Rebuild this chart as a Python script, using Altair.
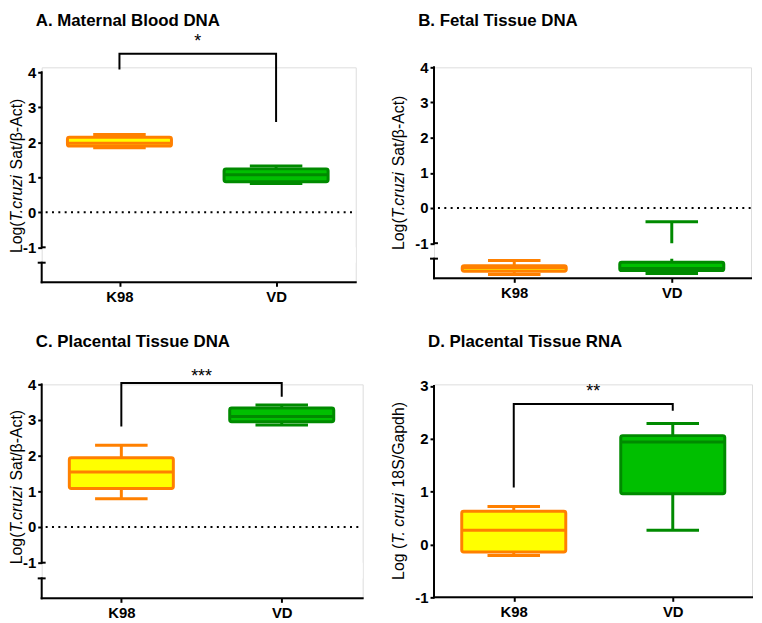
import altair as alt
import pandas as pd

FONT = "Liberation Sans"
ORANGE = "#FF8000"
YELLOW = "#FFFF00"
DKGREEN = "#008A00"
LTGREEN = "#00BF00"

groups = ["K98", "VD"]

# ---- data (log values) ----
A_low = [1.84, 0.82]
A_q1 = [1.89, 0.87]
A_med = [1.97, 1.07]
A_q3 = [2.14, 1.24]
A_high = [2.22, 1.32]

B_low = [-1.89, -1.86]
B_q1 = [-1.80, -1.78]
B_med = [-1.70, -1.72]
B_q3 = [-1.64, -1.54]
B_high = [-1.49, -0.39]

C_low = [0.79, 2.86]
C_q1 = [1.08, 2.95]
C_med = [1.54, 3.10]
C_q3 = [1.94, 3.34]
C_high = [2.29, 3.42]

D_low = [-0.21, 0.27]
D_q1 = [-0.14, 0.96]
D_med = [0.27, 1.94]
D_q3 = [0.63, 2.06]
D_high = [0.72, 2.29]

# significance brackets: (left leg start, bracket top, right leg end), label, label baseline
A_bracket = [4.08, 4.53, 2.58]
C_bracket = [2.82, 4.04, 3.65]
D_bracket = [1.08, 2.66, 2.53]
A_stars, A_star_y = "*", 4.71
C_stars, C_star_y = "***", 4.07
D_stars, D_star_y = "**", 2.79

titles = ["A. Maternal Blood DNA", "B. Fetal Tissue DNA",
          "C. Placental Tissue DNA", "D. Placental Tissue RNA"]
ytitle_dna = ["Log(", "T.cruzi", "Sat/\u03b2-Act)"]
ytitle_rna = ["Log (", "T. cruzi", "18S/Gapdh)"]
ticks_dna = [-1, 0, 1, 2, 3, 4]
ticks_rna = [-1, 0, 1, 2, 3]


def make_panel(p):
    w, h = p["width"], p["height"]
    ys = alt.Scale(domain=p["ydom"], nice=False, zero=False)
    xs = alt.Scale(type="point", domain=groups, range=p["xrange"], padding=0)
    yaxis = alt.Axis(values=p["yticks"], domain=False, grid=False, tickSize=4,
                     tickWidth=2, tickColor="black", labelFont=FONT,
                     labelFontSize=15, labelFontWeight="bold", labelColor="black",
                     labelPadding=2, title=None, labelExpr="'' + datum.value")
    xaxis = alt.Axis(domain=False, grid=False, tickSize=4, tickWidth=2,
                     tickColor="black", labelFont=FONT, labelFontSize=15,
                     labelFontWeight="bold", labelColor="black", labelAngle=0,
                     labelPadding=3, title=None)

    def X(f="group"):
        return alt.X(f + ":N", scale=xs, axis=xaxis)

    def Y(f):
        return alt.Y(f + ":Q", scale=ys, axis=yaxis)

    fill = alt.Color("group:N", scale=alt.Scale(domain=groups, range=[YELLOW, LTGREEN]), legend=None)
    stroke = alt.Stroke("group:N", scale=alt.Scale(domain=groups, range=[ORANGE, DKGREEN]), legend=None)
    edge = alt.Color("group:N", scale=alt.Scale(domain=groups, range=[ORANGE, DKGREEN]), legend=None)

    df = pd.DataFrame({"group": groups, "low": p["low"], "q1": p["q1"],
                       "med": p["med"], "q3": p["q3"], "high": p["high"]})
    layers = []
    bottom = p["ydom"][0]

    if p["zero"]:
        layers.append(alt.Chart(pd.DataFrame({"y": [0]})).mark_rule(
            color="black", strokeWidth=2, strokeDash=[2, 4.4]).encode(
            y=Y("y"), x=alt.value(4), x2=alt.value(w)))

    layers.append(alt.Chart(df).mark_rule(strokeWidth=3).encode(
        x=X(), y=Y("low"), y2="high:Q", stroke=stroke))
    layers.append(alt.Chart(df).mark_bar(size=105, strokeWidth=3, cornerRadius=2, opacity=1).encode(
        x=X(), y=Y("q1"), y2="q3:Q", fill=fill, stroke=stroke))
    for f in ["low", "high"]:
        layers.append(alt.Chart(df).mark_tick(size=53, thickness=3, opacity=1).encode(
            x=X(), y=Y(f), color=edge))
    layers.append(alt.Chart(df).mark_tick(size=105, thickness=3, opacity=1).encode(
        x=X(), y=Y("med"), color=edge))

    if p["broken"]:
        layers.append(alt.Chart(pd.DataFrame({"y": [-1.0], "y2": [-1.44]})).mark_rect(
            color="white").encode(y=Y("y"), y2="y2:Q", x=alt.value(3), x2=alt.value(w)))
        seg = pd.DataFrame({"y": [-1, -1.44], "y2": [p["yticks"][-1], bottom]})
        layers.append(alt.Chart(pd.DataFrame({"y": [-1]})).mark_rule(
            color="black", strokeWidth=2).encode(y=Y("y"), x=alt.value(0), x2=alt.value(4)))
        layers.append(alt.Chart(pd.DataFrame({"y": [-1.44]})).mark_rule(
            color="black", strokeWidth=2).encode(y=Y("y"), x=alt.value(-4), x2=alt.value(4)))
    else:
        seg = pd.DataFrame({"y": [bottom], "y2": [p["yticks"][-1]]})
    layers.append(alt.Chart(seg).mark_rule(color="black", strokeWidth=2, strokeCap="square").encode(
        y=Y("y"), y2="y2:Q", x=alt.value(0)))
    layers.append(alt.Chart(pd.DataFrame({"y": [bottom]})).mark_rule(
        color="black", strokeWidth=2, strokeCap="square").encode(
        y=Y("y"), x=alt.value(0), x2=alt.value(w)))

    if p["bracket"] is not None:
        b = p["bracket"]
        bdf = pd.DataFrame({"group": ["K98", "K98", "VD", "VD"],
                            "y": [b[0], b[1], b[1], b[2]], "o": [0, 1, 2, 3]})
        layers.append(alt.Chart(bdf).mark_line(color="black", strokeWidth=2).encode(
            x=X(), y=Y("y"), order="o:Q"))
        sdf = pd.DataFrame({"group": ["K98"], "y": [p["star_y"]], "t": [p["stars"]]})
        half = (p["xrange"][1] - p["xrange"][0]) / 2
        layers.append(alt.Chart(sdf).mark_text(
            font=FONT, fontSize=18, color="black", align="center",
            baseline="alphabetic", dx=half).encode(x=X(), y=Y("y"), text="t:N"))

    # panel title
    layers.append(alt.Chart(pd.DataFrame({"t": [p["title"]]})).mark_text(
        font=FONT, fontSize=17, fontWeight="bold", color="black", align="left",
        baseline="middle").encode(x=alt.value(p["title_dx"]), y=alt.value(p["title_dy"]),
                                  text="t:N"))
    # y axis title in three pieces (italic species name)
    parts = p["ytitle"]
    widths = p["ywidths"]
    y0 = p["ytitle_start"]
    offs = [0, widths[0], widths[0] + widths[1] + 4.45]
    for i, (txt, off) in enumerate(zip(parts, offs)):
        layers.append(alt.Chart(pd.DataFrame({"t": [txt]})).mark_text(
            font=FONT, fontSize=16, color="black", angle=270, align="left",
            baseline="middle", fontStyle="italic" if i == 1 else "normal").encode(
            x=alt.value(p["ytitle_x"]), y=alt.value(y0 - off), text="t:N"))

    return alt.layer(*layers).properties(width=w, height=h)


dna_w = [32.0, 48.0, 75.9]
rna_w = [36.5, 52.4, 90.7]

pA = dict(width=317, height=217, ydom=[-2, 4.14], xrange=[78.5, 236.6], yticks=ticks_dna,
          low=A_low, q1=A_q1, med=A_med, q3=A_q3, high=A_high, zero=True, broken=True,
          bracket=A_bracket, stars=A_stars, star_y=A_star_y, title=titles[0],
          title_dx=-6, title_dy=-47, ytitle=ytitle_dna, ywidths=dna_w,
          ytitle_x=-25, ytitle_start=187.5)
pB = dict(width=320, height=213, ydom=[-2, 4], xrange=[81, 240], yticks=ticks_dna,
          low=B_low, q1=B_q1, med=B_med, q3=B_q3, high=B_high, zero=True, broken=True,
          bracket=None, title=titles[1], title_dx=-16, title_dy=-47,
          ytitle=ytitle_dna, ywidths=dna_w, ytitle_x=-35.5, ytitle_start=184.4)
pC = dict(width=324, height=216, ydom=[-2, 4], xrange=[80.4, 242.3], yticks=ticks_dna,
          low=C_low, q1=C_q1, med=C_med, q3=C_q3, high=C_high, zero=True, broken=True,
          bracket=C_bracket, stars=C_stars, star_y=C_star_y, title=titles[2],
          title_dx=-6, title_dy=-42.6, ytitle=ytitle_dna, ywidths=dna_w,
          ytitle_x=-25, ytitle_start=181.6)
pD = dict(width=321, height=215, ydom=[-1, 3.03], xrange=[80.5, 241], yticks=ticks_rna,
          low=D_low, q1=D_q1, med=D_med, q3=D_q3, high=D_high, zero=False, broken=False,
          bracket=D_bracket, stars=D_stars, star_y=D_star_y, title=titles[3],
          title_dx=-6, title_dy=-42.6, ytitle=ytitle_rna, ywidths=rna_w,
          ytitle_x=-35.5, ytitle_start=197.4)

chart = alt.concat(make_panel(pA), make_panel(pB), make_panel(pC), make_panel(pD),
                   columns=2, spacing={"row": 103, "column": 72}, bounds="flush"
                   ).properties(padding=0).configure_view(stroke=None).configure(font=FONT)

chart.save("out.html", embed_options={"renderer": "svg", "actions": False})
